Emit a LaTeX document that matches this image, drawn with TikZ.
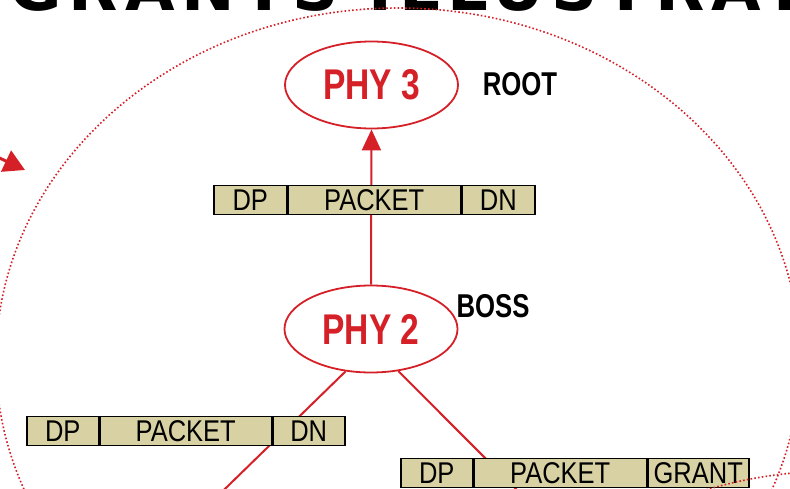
\documentclass[tikz,border=0pt]{standalone}
\usepackage{fontspec}
\setmainfont{Liberation Sans}
\newfontfamily\headfont[FakeStretch=0.78]{Liberation Sans}
\newfontfamily\cellfont[FakeStretch=0.85]{Liberation Sans}
\newfontfamily\titlefont[LetterSpace=11]{DejaVu Sans}
\usetikzlibrary{arrows.meta,shapes.geometric}
\definecolor{phyred}{RGB}{213,32,39}
\definecolor{khaki}{RGB}{215,209,163}
\tikzset{
  phynode/.style={ellipse, draw=phyred, line width=1.8pt, minimum width=173pt,
    minimum height=87pt, inner sep=0pt, text=phyred,
    font=\headfont\bfseries\fontsize{43}{43}\selectfont},
  rolelabel/.style={inner sep=0pt, text=black,
    font=\headfont\bfseries\fontsize{33}{33}\selectfont},
  cell/.style={rectangle, draw=black, line width=1.5pt, fill=khaki,
    minimum height=29pt, inner sep=0pt, anchor=west,
    font=\cellfont\fontsize{30}{30}\selectfont},
  link/.style={draw=phyred, line width=2pt},
  orbit/.style={draw=phyred, line width=1.6pt, dash pattern=on 1.6pt off 2.2pt},
}
\begin{document}
\begin{tikzpicture}[x=1pt, y=-1pt]
\useasboundingbox (0,0) rectangle (790,489);
\clip (0,0) rectangle (790,489);

% heading, only its lower edge falls inside the page
\node[anchor=base west, inner sep=0pt, font=\titlefont\bfseries\fontsize{64}{64}\selectfont]
  (title) at (9,11) {GRANTS ILLUSTRATED};

% incoming arrow on the left
\coordinate (feedstart) at (-60,130);
\coordinate (feedtip) at (25,170);
\draw[link, line width=3pt, -{Triangle[length=21pt,width=23pt]}] (feedstart) -- (feedtip);

% nodes of the tree
\node[phynode] (phy3) at (371.5,85) {PHY 3};
\node[rolelabel] (root) at (520,84) {ROOT};
\node[phynode] (phy2) at (371,329) {PHY 2};
\node[rolelabel] (boss) at (493,306) {BOSS};

% children below the visible area
\coordinate (leftchild) at (152,560);
\coordinate (rightchild) at (560,533);

% links between the nodes
\draw[link, -{Triangle[length=21pt,width=19pt]}] (phy2.north) -- (phy3.south);
\draw[link] (phy2.-121) -- (leftchild);
\draw[link] (phy2.-57) -- (rightchild);

% packet going up to the root
\node[cell, minimum width=73pt] (upDP) at (213,200) {DP};
\node[cell, minimum width=172pt] (upPK) at (upDP.east) {PACKET};
\node[cell, minimum width=73pt] (upDN) at (upPK.east) {DN};

% packet on the left branch
\node[cell, minimum width=72pt] (leftDP) at (26,431) {DP};
\node[cell, minimum width=171pt] (leftPK) at (leftDP.east) {PACKET};
\node[cell, minimum width=72pt] (leftDN) at (leftPK.east) {DN};

% packet carrying the grant on the right branch
\node[cell, minimum width=72pt] (rightDP) at (400,473) {DP};
\node[cell, minimum width=172pt] (rightPK) at (rightDP.east) {PACKET};
\node[cell, minimum width=101pt] (rightGR) at (rightPK.east) {GRANT};

% dotted domain outlines
\draw[orbit] (398,360) ellipse [x radius=402, y radius=352];
\draw[orbit] (836,821) ellipse [x radius=400, y radius=350];
\end{tikzpicture}
\end{document}
